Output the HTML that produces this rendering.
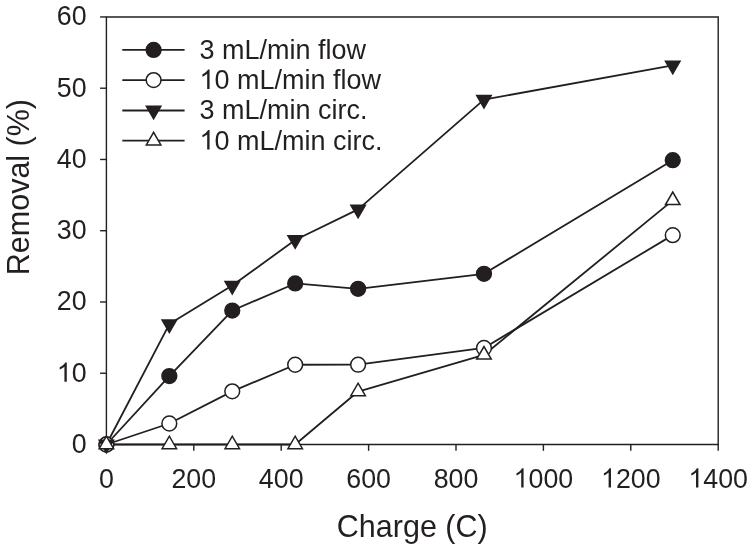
<!DOCTYPE html>
<html><head><meta charset="utf-8"><style>
html,body{margin:0;padding:0;background:#fff;}
svg{display:block;will-change:transform;}
text{font-family:"Liberation Sans",sans-serif;fill:#231f20;}
</style></head><body>
<svg width="754" height="550" viewBox="0 0 754 550">
<rect width="754" height="550" fill="#fff"/>
<path d="M106.40,16.95 H718.20 V444.50 H106.40 Z" fill="none" stroke="#231f20" stroke-width="1.4"/>
<line x1="100.10" y1="444.50" x2="106.40" y2="444.50" stroke="#231f20" stroke-width="1.4"/>
<text transform="translate(71.70,453.00) scale(1,1.035)" font-size="26.8">0</text>
<line x1="100.10" y1="373.24" x2="106.40" y2="373.24" stroke="#231f20" stroke-width="1.4"/>
<text transform="translate(56.79,381.74) scale(1,1.035)" font-size="26.8"> 0</text>
<path transform="translate(56.79,381.74) translate(0.00,0) scale(0.01309,-0.01309)" d="M763 0H583V1147Q518 1085 412.5 1023Q307 961 223 930V1104Q374 1175 487 1276Q600 1377 647 1472H763V0Z" fill="#231f20"/>
<line x1="100.10" y1="301.98" x2="106.40" y2="301.98" stroke="#231f20" stroke-width="1.4"/>
<text transform="translate(56.79,310.48) scale(1,1.035)" font-size="26.8">20</text>
<line x1="100.10" y1="230.72" x2="106.40" y2="230.72" stroke="#231f20" stroke-width="1.4"/>
<text transform="translate(56.79,239.22) scale(1,1.035)" font-size="26.8">30</text>
<line x1="100.10" y1="159.47" x2="106.40" y2="159.47" stroke="#231f20" stroke-width="1.4"/>
<text transform="translate(56.79,167.97) scale(1,1.035)" font-size="26.8">40</text>
<line x1="100.10" y1="88.21" x2="106.40" y2="88.21" stroke="#231f20" stroke-width="1.4"/>
<text transform="translate(56.79,96.71) scale(1,1.035)" font-size="26.8">50</text>
<line x1="100.10" y1="16.95" x2="106.40" y2="16.95" stroke="#231f20" stroke-width="1.4"/>
<text transform="translate(56.79,25.45) scale(1,1.035)" font-size="26.8">60</text>
<line x1="106.40" y1="444.50" x2="106.40" y2="450.80" stroke="#231f20" stroke-width="1.4"/>
<text transform="translate(98.95,487.60) scale(1,1.035)" font-size="26.8">0</text>
<line x1="193.80" y1="444.50" x2="193.80" y2="450.80" stroke="#231f20" stroke-width="1.4"/>
<text transform="translate(171.44,487.60) scale(1,1.035)" font-size="26.8">200</text>
<line x1="281.20" y1="444.50" x2="281.20" y2="450.80" stroke="#231f20" stroke-width="1.4"/>
<text transform="translate(258.84,487.60) scale(1,1.035)" font-size="26.8">400</text>
<line x1="368.60" y1="444.50" x2="368.60" y2="450.80" stroke="#231f20" stroke-width="1.4"/>
<text transform="translate(346.24,487.60) scale(1,1.035)" font-size="26.8">600</text>
<line x1="456.00" y1="444.50" x2="456.00" y2="450.80" stroke="#231f20" stroke-width="1.4"/>
<text transform="translate(433.64,487.60) scale(1,1.035)" font-size="26.8">800</text>
<line x1="543.40" y1="444.50" x2="543.40" y2="450.80" stroke="#231f20" stroke-width="1.4"/>
<text transform="translate(513.59,487.60) scale(1,1.035)" font-size="26.8"> 000</text>
<path transform="translate(513.59,487.60) translate(0.00,0) scale(0.01309,-0.01309)" d="M763 0H583V1147Q518 1085 412.5 1023Q307 961 223 930V1104Q374 1175 487 1276Q600 1377 647 1472H763V0Z" fill="#231f20"/>
<line x1="630.80" y1="444.50" x2="630.80" y2="450.80" stroke="#231f20" stroke-width="1.4"/>
<text transform="translate(600.99,487.60) scale(1,1.035)" font-size="26.8"> 200</text>
<path transform="translate(600.99,487.60) translate(0.00,0) scale(0.01309,-0.01309)" d="M763 0H583V1147Q518 1085 412.5 1023Q307 961 223 930V1104Q374 1175 487 1276Q600 1377 647 1472H763V0Z" fill="#231f20"/>
<line x1="718.20" y1="444.50" x2="718.20" y2="450.80" stroke="#231f20" stroke-width="1.4"/>
<text transform="translate(688.39,487.60) scale(1,1.035)" font-size="26.8"> 400</text>
<path transform="translate(688.39,487.60) translate(0.00,0) scale(0.01309,-0.01309)" d="M763 0H583V1147Q518 1085 412.5 1023Q307 961 223 930V1104Q374 1175 487 1276Q600 1377 647 1472H763V0Z" fill="#231f20"/>
<polyline points="106.40,444.50 169.33,376.09 232.26,310.53 295.18,283.46 358.11,288.80 483.97,273.84 672.75,160.18" fill="none" stroke="#231f20" stroke-width="1.8" stroke-linejoin="round"/>
<polyline points="106.40,444.50 169.33,423.48 232.26,391.34 295.18,364.76 358.11,364.69 483.97,347.94 672.75,235.14" fill="none" stroke="#231f20" stroke-width="1.8" stroke-linejoin="round"/>
<polyline points="106.40,444.50 169.33,324.07 232.26,285.59 295.18,239.99 358.11,209.35 483.97,99.61 672.75,65.41" fill="none" stroke="#231f20" stroke-width="1.8" stroke-linejoin="round"/>
<polyline points="106.40,444.50 169.33,444.50 232.26,444.50 295.18,444.50 358.11,391.56 483.97,354.93 672.75,200.37" fill="none" stroke="#231f20" stroke-width="1.8" stroke-linejoin="round"/>
<circle cx="106.40" cy="444.50" r="7.4" fill="#231f20" stroke="#231f20" stroke-width="1.5"/>
<circle cx="169.33" cy="376.09" r="7.4" fill="#231f20" stroke="#231f20" stroke-width="1.5"/>
<circle cx="232.26" cy="310.53" r="7.4" fill="#231f20" stroke="#231f20" stroke-width="1.5"/>
<circle cx="295.18" cy="283.46" r="7.4" fill="#231f20" stroke="#231f20" stroke-width="1.5"/>
<circle cx="358.11" cy="288.80" r="7.4" fill="#231f20" stroke="#231f20" stroke-width="1.5"/>
<circle cx="483.97" cy="273.84" r="7.4" fill="#231f20" stroke="#231f20" stroke-width="1.5"/>
<circle cx="672.75" cy="160.18" r="7.4" fill="#231f20" stroke="#231f20" stroke-width="1.5"/>
<circle cx="106.40" cy="444.50" r="7.4" fill="#fff" stroke="#231f20" stroke-width="1.5"/>
<circle cx="169.33" cy="423.48" r="7.4" fill="#fff" stroke="#231f20" stroke-width="1.5"/>
<circle cx="232.26" cy="391.34" r="7.4" fill="#fff" stroke="#231f20" stroke-width="1.5"/>
<circle cx="295.18" cy="364.76" r="7.4" fill="#fff" stroke="#231f20" stroke-width="1.5"/>
<circle cx="358.11" cy="364.69" r="7.4" fill="#fff" stroke="#231f20" stroke-width="1.5"/>
<circle cx="483.97" cy="347.94" r="7.4" fill="#fff" stroke="#231f20" stroke-width="1.5"/>
<circle cx="672.75" cy="235.14" r="7.4" fill="#fff" stroke="#231f20" stroke-width="1.5"/>
<polygon points="99.15,440.31 113.65,440.31 106.40,452.87" fill="#231f20" stroke="#231f20" stroke-width="1.5" stroke-linejoin="miter"/>
<polygon points="162.08,319.89 176.58,319.89 169.33,332.44" fill="#231f20" stroke="#231f20" stroke-width="1.5" stroke-linejoin="miter"/>
<polygon points="225.01,281.41 239.51,281.41 232.26,293.97" fill="#231f20" stroke="#231f20" stroke-width="1.5" stroke-linejoin="miter"/>
<polygon points="287.93,235.80 302.43,235.80 295.18,248.36" fill="#231f20" stroke="#231f20" stroke-width="1.5" stroke-linejoin="miter"/>
<polygon points="350.86,205.16 365.36,205.16 358.11,217.72" fill="#231f20" stroke="#231f20" stroke-width="1.5" stroke-linejoin="miter"/>
<polygon points="476.72,95.42 491.22,95.42 483.97,107.98" fill="#231f20" stroke="#231f20" stroke-width="1.5" stroke-linejoin="miter"/>
<polygon points="665.50,61.22 680.00,61.22 672.75,73.78" fill="#231f20" stroke="#231f20" stroke-width="1.5" stroke-linejoin="miter"/>
<polygon points="99.15,448.69 113.65,448.69 106.40,436.13" fill="#fff" stroke="#231f20" stroke-width="1.5" stroke-linejoin="miter"/>
<polygon points="162.08,448.69 176.58,448.69 169.33,436.13" fill="#fff" stroke="#231f20" stroke-width="1.5" stroke-linejoin="miter"/>
<polygon points="225.01,448.69 239.51,448.69 232.26,436.13" fill="#fff" stroke="#231f20" stroke-width="1.5" stroke-linejoin="miter"/>
<polygon points="287.93,448.69 302.43,448.69 295.18,436.13" fill="#fff" stroke="#231f20" stroke-width="1.5" stroke-linejoin="miter"/>
<polygon points="350.86,395.74 365.36,395.74 358.11,383.18" fill="#fff" stroke="#231f20" stroke-width="1.5" stroke-linejoin="miter"/>
<polygon points="476.72,359.11 491.22,359.11 483.97,346.56" fill="#fff" stroke="#231f20" stroke-width="1.5" stroke-linejoin="miter"/>
<polygon points="665.50,204.55 680.00,204.55 672.75,192.00" fill="#fff" stroke="#231f20" stroke-width="1.5" stroke-linejoin="miter"/>
<line x1="122.3" y1="49.9" x2="184.6" y2="49.9" stroke="#231f20" stroke-width="1.8"/>
<circle cx="153.60" cy="49.90" r="7.4" fill="#231f20" stroke="#231f20" stroke-width="1.5"/>
<text transform="translate(199.50,58.70) scale(1,1.035)" font-size="27">3 mL/min flow</text>
<line x1="122.3" y1="80.1" x2="184.6" y2="80.1" stroke="#231f20" stroke-width="1.8"/>
<circle cx="153.60" cy="80.10" r="7.4" fill="#fff" stroke="#231f20" stroke-width="1.5"/>
<text transform="translate(199.50,88.90) scale(1,1.035)" font-size="27"> 0 mL/min flow</text>
<path transform="translate(199.50,88.90) translate(0.00,0) scale(0.01318,-0.01318)" d="M763 0H583V1147Q518 1085 412.5 1023Q307 961 223 930V1104Q374 1175 487 1276Q600 1377 647 1472H763V0Z" fill="#231f20"/>
<line x1="122.3" y1="110.5" x2="184.6" y2="110.5" stroke="#231f20" stroke-width="1.8"/>
<polygon points="146.35,106.31 160.85,106.31 153.60,118.87" fill="#231f20" stroke="#231f20" stroke-width="1.5" stroke-linejoin="miter"/>
<text transform="translate(199.50,119.30) scale(1,1.035)" font-size="27">3 mL/min circ.</text>
<line x1="122.3" y1="140.7" x2="184.6" y2="140.7" stroke="#231f20" stroke-width="1.8"/>
<polygon points="146.35,144.89 160.85,144.89 153.60,132.33" fill="#fff" stroke="#231f20" stroke-width="1.5" stroke-linejoin="miter"/>
<text transform="translate(199.50,149.50) scale(1,1.035)" font-size="27"> 0 mL/min circ.</text>
<path transform="translate(199.50,149.50) translate(0.00,0) scale(0.01318,-0.01318)" d="M763 0H583V1147Q518 1085 412.5 1023Q307 961 223 930V1104Q374 1175 487 1276Q600 1377 647 1472H763V0Z" fill="#231f20"/>
<text transform="translate(336.85,536.5) scale(1,1.02)" font-size="30.5">Charge (C)</text>
<text transform="translate(28.9,275.20) rotate(-90) scale(1,1.02)" font-size="30.5">Removal (%)</text>
</svg>
</body></html>
